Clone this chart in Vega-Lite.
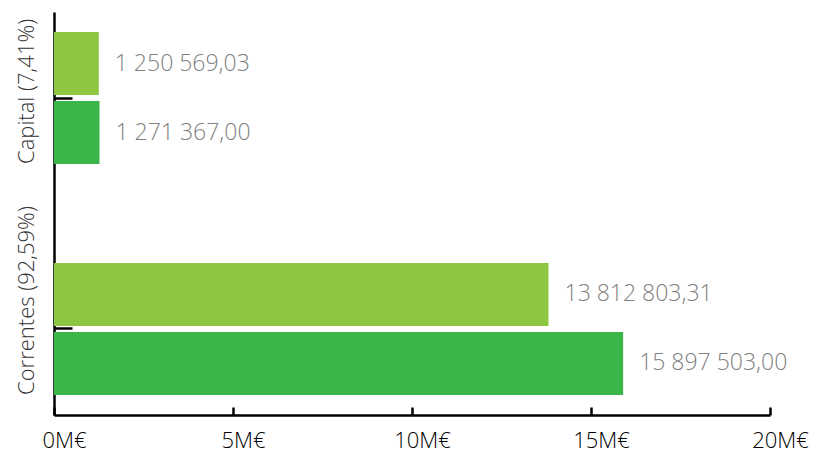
{
  "$schema": "https://vega.github.io/schema/vega-lite/v6.json",
  "width": 716,
  "height": 403,
  "autosize": "none",
  "padding": {"left": 54, "top": 12, "right": 43, "bottom": 39},
  "config": {
    "view": {"stroke": null},
    "font": "Open Sans",
    "locale": {"number": {"decimal": ",", "thousands": " ", "grouping": [3], "currency": ["", " €"]}}
  },
  "data": {
    "values": [
      {"categoria": "Capital (7,41%)", "serie": "Série 1", "valor": 1250569.03},
      {"categoria": "Capital (7,41%)", "serie": "Série 2", "valor": 1271367.00},
      {"categoria": "Correntes (92,59%)", "serie": "Série 1", "valor": 13812803.31},
      {"categoria": "Correntes (92,59%)", "serie": "Série 2", "valor": 15897503.00}
    ]
  },
  "encoding": {
    "y": {
      "field": "categoria",
      "type": "nominal",
      "sort": null,
      "scale": {"paddingInner": 0.255, "paddingOuter": 0},
      "axis": {
        "title": null,
        "grid": false,
        "domainColor": "black",
        "domainWidth": 2.5,
        "tickColor": "black",
        "tickWidth": 2.5,
        "tickSize": -18,
        "labelAngle": -90,
        "labelAlign": "left",
        "labelBaseline": "bottom",
        "labelOffset": 66,
        "labelFontSize": 22,
        "labelFontWeight": 300,
        "labelColor": "#333333",
        "labelPadding": 34,
        "labelLimit": 400
      }
    },
    "yOffset": {
      "field": "serie",
      "type": "nominal",
      "sort": ["Série 1", "Série 2"],
      "scale": {"paddingInner": 0.087, "paddingOuter": 0.29}
    },
    "x": {
      "field": "valor",
      "type": "quantitative",
      "scale": {"domain": [0, 20000000]},
      "axis": {
        "title": null,
        "grid": false,
        "values": [0, 5000000, 10000000, 15000000, 20000000],
        "labelExpr": "(datum.value / 1000000) + 'M€'",
        "domainColor": "black",
        "domainWidth": 2.5,
        "tickColor": "black",
        "tickWidth": 2.5,
        "tickSize": -8,
        "labelFontSize": 22,
        "labelFontWeight": 300,
        "labelColor": "black",
        "labelPadding": 23,
        "labelFlush": false,
        "labelOffset": 10
      }
    }
  },
  "layer": [
    {
      "mark": {"type": "bar"},
      "encoding": {
        "color": {
          "field": "serie",
          "type": "nominal",
          "scale": {"domain": ["Série 1", "Série 2"], "range": ["#8DC63F", "#39B54A"]},
          "legend": null
        }
      }
    },
    {
      "mark": {"type": "text", "align": "left", "baseline": "middle", "dx": 16, "fontSize": 23, "fontWeight": 300, "color": "#808080"},
      "encoding": {"text": {"field": "valor", "type": "quantitative", "format": ",.2f"}}
    }
  ]
}
